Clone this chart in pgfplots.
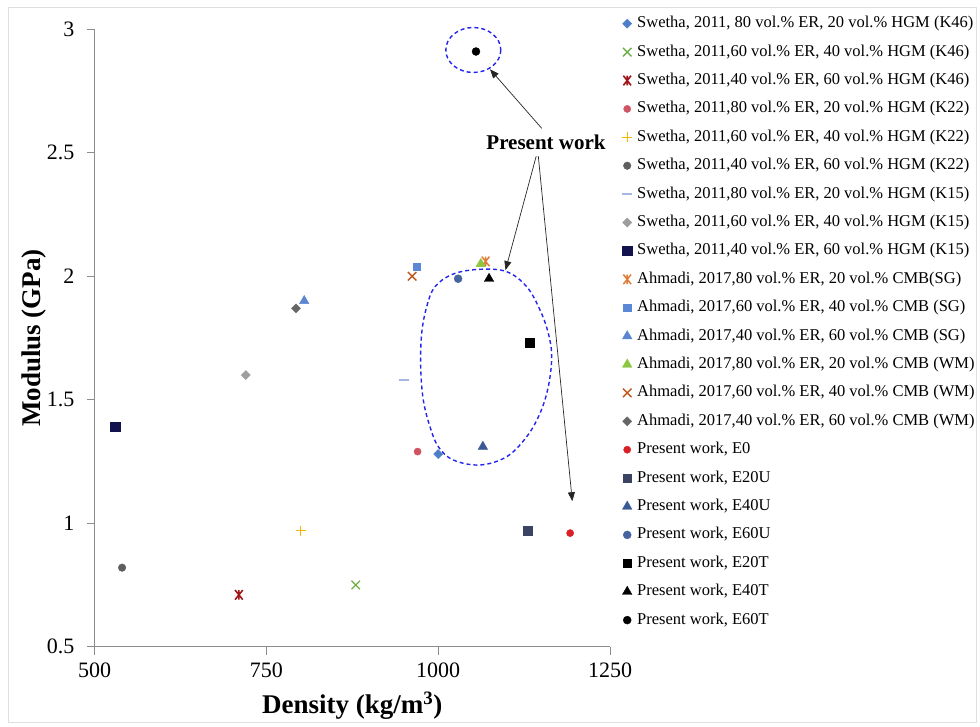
\documentclass[border=0pt]{standalone}
\usepackage{fontspec}
\setmainfont{Liberation Serif}
\usepackage{pgfplots}
\pgfplotsset{compat=1.18}
\usetikzlibrary{arrows.meta,plotmarks}

\pgfdeclareplotmark{xstar}{%
  \pgfpathmoveto{\pgfqpoint{-0.8\pgfplotmarksize}{-\pgfplotmarksize}}%
  \pgfpathlineto{\pgfqpoint{0.8\pgfplotmarksize}{\pgfplotmarksize}}%
  \pgfpathmoveto{\pgfqpoint{-0.8\pgfplotmarksize}{\pgfplotmarksize}}%
  \pgfpathlineto{\pgfqpoint{0.8\pgfplotmarksize}{-\pgfplotmarksize}}%
  \pgfpathmoveto{\pgfqpoint{0pt}{-\pgfplotmarksize}}%
  \pgfpathlineto{\pgfqpoint{0pt}{\pgfplotmarksize}}%
  \pgfusepathqstroke}

\definecolor{c1}{HTML}{4F7EC9}
\definecolor{c2}{HTML}{6FAD47}
\definecolor{c3}{HTML}{A0171B}
\definecolor{c4}{HTML}{CF5360}
\definecolor{c5}{HTML}{F5B800}
\definecolor{c6}{HTML}{5F5F5F}
\definecolor{c7}{HTML}{A4B8E0}
\definecolor{c8}{HTML}{9E9E9E}
\definecolor{c9}{HTML}{12124F}
\definecolor{c10}{HTML}{E07B39}
\definecolor{c11}{HTML}{5B88D6}
\definecolor{c12}{HTML}{5B86D2}
\definecolor{c13}{HTML}{8DC63F}
\definecolor{c14}{HTML}{C0561A}
\definecolor{c15}{HTML}{666666}
\definecolor{c16}{HTML}{DA1F26}
\definecolor{c17}{HTML}{3B4563}
\definecolor{c18}{HTML}{3B5A95}
\definecolor{c19}{HTML}{46629F}
\definecolor{axgray}{HTML}{8C8C8C}
\definecolor{dashblue}{HTML}{2424F0}

\newcommand\tickfont{\fontsize{22bp}{26bp}\selectfont}
\newcommand\labfont{\fontsize{27bp}{31bp}\selectfont\bfseries}
\newcommand\legfont{\fontsize{16.5bp}{19bp}\selectfont}
\newcommand\annfont{\fontsize{21bp}{25bp}\selectfont\bfseries}

\begin{document}
\begin{tikzpicture}[x=1bp,y=1bp]
\useasboundingbox (0,0) rectangle (980,727);
\begin{scope}[shift={(0,727)}, yscale=-1]
  \draw[gray!25, line width=0.8bp] (8,7) rectangle (976,722);
\end{scope}
\begin{axis}[
  at={(94.6bp,80.3bp)}, anchor=south west,
  scale only axis, width=515.4bp, height=617.4bp,
  xmin=500, xmax=1250, ymin=0.5, ymax=3,
  xtick={500,750,1000,1250},
  ytick={0.5,1,1.5,2,2.5,3},
  axis lines*=left,
  axis line style={axgray, line width=0.9bp},
  tick style={axgray, line width=0.9bp},
  tick align=outside,
  major tick length=8bp,
  /pgf/number format/assume math mode=true,
  /pgf/number format/1000 sep={},
  ticklabel style={font=\tickfont, text=black},
  yticklabel style={inner sep=0pt, anchor=east, xshift=-12bp},
  xticklabel style={inner sep=0pt, anchor=north, yshift=-8bp},
  xlabel={Density (kg/m$^{\mathbf{3}}$)},
  ylabel={Modulus (GPa)},
  xlabel style={font=\labfont, at={(axis description cs:0.5,-0.096)}, anchor=center},
  ylabel style={font=\labfont, at={(axis description cs:-0.117,0.5)}, anchor=center},
  clip=false,
  only marks,
  legend image code/.code={\draw[mark repeat=2,mark phase=2] plot coordinates {(0bp,0bp) (5bp,0bp) (10bp,0bp)};},
  legend cell align=left,
  legend style={at={(1.0233,1.0215)}, anchor=north west, draw=none, fill=none,
    inner sep=0pt, font=\legfont, row sep=13.4bp,
    nodes={inner sep=0pt, text height=11.5bp, text depth=3.5bp},
    /tikz/every odd column/.append style={column sep=5bp}},
]
% Swetha 2011
\addplot[color=c1, mark=square*, mark size=3.2bp, mark options={rotate=45}] coordinates {(1000,1.28)};
\addlegendentry{Swetha, 2011, 80 vol.\% ER, 20 vol.\% HGM (K46)}
\addplot[color=c2, mark=x, mark size=6bp, mark options={line width=1.3bp}] coordinates {(880,0.75)};
\addlegendentry{Swetha, 2011,60 vol.\% ER, 40 vol.\% HGM (K46)}
\addplot[color=c3, mark=xstar, mark size=4.8bp, mark options={line width=1.6bp}] coordinates {(710,0.71)};
\addlegendentry{Swetha, 2011,40 vol.\% ER, 60 vol.\% HGM (K46)}
\addplot[color=c4, mark=*, mark size=3.6bp] coordinates {(970,1.29)};
\addlegendentry{Swetha, 2011,80 vol.\% ER, 20 vol.\% HGM (K22)}
\addplot[color=c5, mark=+, mark size=5bp, mark options={line width=1.3bp}] coordinates {(800,0.97)};
\addlegendentry{Swetha, 2011,60 vol.\% ER, 40 vol.\% HGM (K22)}
\addplot[color=c6, mark=*, mark size=3.8bp] coordinates {(540,0.82)};
\addlegendentry{Swetha, 2011,40 vol.\% ER, 60 vol.\% HGM (K22)}
\addplot[color=c7, mark=-, mark size=5bp, mark options={line width=2bp}] coordinates {(950,1.58)};
\addlegendentry{Swetha, 2011,80 vol.\% ER, 20 vol.\% HGM (K15)}
\addplot[color=c8, mark=square*, mark size=3.2bp, mark options={rotate=45}] coordinates {(720,1.60)};
\addlegendentry{Swetha, 2011,60 vol.\% ER, 40 vol.\% HGM (K15)}
\addplot[color=c9, mark=square*, mark size=4.6bp] coordinates {(530,1.39)};
\addlegendentry{Swetha, 2011,40 vol.\% ER, 60 vol.\% HGM (K15)}
% Ahmadi 2017
\addplot[color=c10, mark=xstar, mark size=4.8bp, mark options={line width=1.5bp}] coordinates {(1069,2.06)};
\addlegendentry{Ahmadi, 2017,80 vol.\% ER, 20 vol.\% CMB(SG)}
\addplot[color=c11, mark=square*, mark size=3.6bp] coordinates {(969,2.04)};
\addlegendentry{Ahmadi, 2017,60 vol.\% ER, 40 vol.\% CMB (SG)}
\addplot[color=c12, mark=triangle*, mark size=5.5bp] coordinates {(805,1.90)};
\addlegendentry{Ahmadi, 2017,40 vol.\% ER, 60 vol.\% CMB (SG)}
\addplot[color=c13, mark=triangle*, mark size=5.5bp] coordinates {(1062,2.05)};
\addlegendentry{Ahmadi, 2017,80 vol.\% ER, 20 vol.\% CMB (WM)}
\addplot[color=c14, mark=x, mark size=6bp, mark options={line width=1.4bp}] coordinates {(962,2.00)};
\addlegendentry{Ahmadi, 2017,60 vol.\% ER, 40 vol.\% CMB (WM)}
\addplot[color=c15, mark=square*, mark size=3.2bp, mark options={rotate=45}] coordinates {(793,1.87)};
\addlegendentry{Ahmadi, 2017,40 vol.\% ER, 60 vol.\% CMB (WM)}
% Present work
\addplot[color=c16, mark=*, mark size=3.6bp] coordinates {(1192,0.96)};
\addlegendentry{Present work, E0}
\addplot[color=c17, mark=square*, mark size=4.2bp] coordinates {(1130,0.97)};
\addlegendentry{Present work, E20U}
\addplot[color=c18, mark=triangle*, mark size=5.5bp] coordinates {(1065,1.31)};
\addlegendentry{Present work, E40U}
\addplot[color=c19, mark=*, mark size=4bp] coordinates {(1029,1.99)};
\addlegendentry{Present work, E60U}
\addplot[color=black, mark=square*, mark size=4.3bp] coordinates {(1133,1.73)};
\addlegendentry{Present work, E20T}
\addplot[color=black, mark=triangle*, mark size=5.5bp] coordinates {(1074,1.99)};
\addlegendentry{Present work, E40T}
\addplot[color=black, mark=*, mark size=4bp] coordinates {(1055,2.91)};
\addlegendentry{Present work, E60T}
\end{axis}
% annotations (pixel frame of the reference)
\begin{scope}[shift={(0,727)}, yscale=-1]
  \draw[dashblue, line width=1.4bp, dash pattern=on 4bp off 3bp] (473.3,50) ellipse [x radius=27.5, y radius=22.5];
  \draw[dashblue, line width=1.4bp, dash pattern=on 4bp off 3bp] plot[smooth cycle, tension=0.6] coordinates {
    (480,269.3) (506.7,271.7) (526.7,286.7) (540,310) (548.3,333.3) (551.7,356.7)
    (548.3,386.7) (540,413.3) (526.7,436.7) (506.7,456.7) (480,465) (453.3,460)
    (438.3,446.7) (430,426.7) (423.3,400) (420.7,366.7) (421.7,333.3) (426.7,306.7)
    (435,286.7) (453.3,274)};
  \node[font=\annfont, inner sep=0pt] at (546,142) {Present work};
  \draw[black!85, line width=0.7bp, -{Triangle[length=9bp,width=7bp]}] (541.7,128.3) -- (490,69.3);
  \draw[black!85, line width=0.7bp, -{Triangle[length=9bp,width=7bp]}] (536.2,156.2) -- (505.5,270.1);
  \draw[black!85, line width=0.7bp, -{Triangle[length=9bp,width=7bp]}] (538.3,156.2) -- (572.3,501.2);
\end{scope}
\end{tikzpicture}
\end{document}
